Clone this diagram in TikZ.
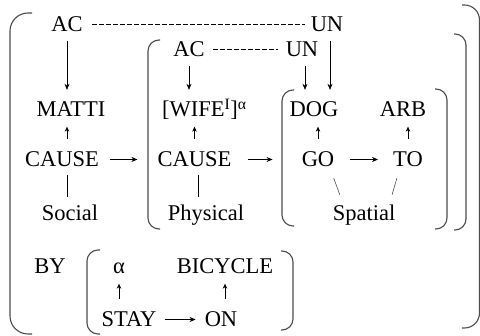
\documentclass[tikz,border=0pt]{standalone}
\usepackage{fontspec}
\setmainfont{Liberation Serif}
\usepackage{tikz}
\usetikzlibrary{arrows.meta, positioning, calc}

\begin{document}
\begin{tikzpicture}[
    x=1pt, y=-1pt,
    word/.style={inner sep=2pt, anchor=base, text height=15pt, text depth=0pt,
        font=\fontsize{22.5}{26}\selectfont},
    darr/.style={-{Stealth[length=6pt, width=5pt]}, semithick, shorten <=7pt, shorten >=10pt},
    uarr/.style={-{Stealth[length=5pt, width=4.5pt]}, semithick, shorten <=11pt, shorten >=7.5pt},
    harr/.style={-{Stealth[length=6pt, width=5pt]}, semithick},
    bind/.style={dash pattern=on 5pt off 2pt, line width=1.4pt},
    link/.style={semithick},
    brk/.style={draw=black!70, line width=1.1pt, rounded corners=11pt}
]
    \useasboundingbox (0,0) rectangle (480,336);

    % words
    \node[word] (acA) at (67,32) {AC};
    \node[word] (unA) at (327,32) {UN};
    \node[word] (acB) at (189,57) {AC};
    \node[word] (unB) at (302,57) {UN};
    \node[word] (matti) at (71,117) {MATTI};
    \node[word, anchor=base west] (wife) at (160,117) {[WIFE\textsuperscript{I}]\textsuperscript{α}};
    \node[word] (dog) at (314,117) {DOG};
    \node[word] (arb) at (403,117) {ARB};
    \node[word] (causeA) at (62,167) {CAUSE};
    \node[word] (causeB) at (194.5,167) {CAUSE};
    \node[word] (go) at (318,167) {GO};
    \node[word] (to) at (408,167) {TO};
    \node[word] (social) at (70,221) {Social};
    \node[word] (physical) at (206,221) {Physical};
    \node[word] (spatial) at (364,221) {Spatial};
    \node[word] (by) at (50,274) {BY};
    \node[word] (alpha) at (119,274) {α};
    \node[word] (bicycle) at (225,274) {BICYCLE};
    \node[word] (stay) at (129,327) {STAY};
    \node[word] (on) at (221,327) {ON};

    % dashed bindings
    \draw[bind, shorten <=7pt, shorten >=4pt] (acA.east) -- (unA.west);
    \draw[bind, shorten <=6pt, shorten >=6pt] (acB.east) -- (unB.west);

    % downward arrows
    \draw[darr] (acA.south) -- (acA.south |- matti.north);
    \draw[darr] (acB.south) -- (acB.south |- wife.north);
    \draw[darr] ([xshift=3pt]unB.south) -- ([xshift=3pt]unB.south |- dog.north);
    \draw[darr] ([xshift=3pt]unA.south) -- ([xshift=3pt]unA.south |- dog.north);

    % upward arrows
    \draw[uarr] (causeA.north -| acA.south) -- (matti.south -| acA.south);
    \draw[uarr] (causeB.north) -- (causeB.north |- wife.south);
    \draw[uarr] (go.north) -- (go.north |- dog.south);
    \draw[uarr] (to.north) -- (to.north |- arb.south);
    \draw[uarr] (stay.north -| alpha) -- (alpha.south);
    \draw[uarr] (on.north -| bicycle) -- (bicycle.south);

    % horizontal arrows
    \draw[harr, shorten <=9pt, shorten >=18pt] (causeA.east) -- (causeB.west);
    \draw[harr, shorten <=14pt, shorten >=27pt] (causeB.east) -- (go.west);
    \draw[harr, shorten <=14pt, shorten >=13pt] (go.east) -- (to.west);
    \draw[harr, shorten <=6.5pt, shorten >=7pt] (stay.east) -- (on.west);

    % field lines
    \draw[link, shorten <=6pt, shorten >=7pt] (causeA.south -| acA.south) -- (social.north -| acA.south);
    \draw[link, shorten <=6pt, shorten >=7pt] ([xshift=4pt]causeB.south) -- ([xshift=4pt]causeB.south |- physical.north);
    \draw[link, draw=black!70, shorten <=9.6pt, shorten >=9.6pt] ([xshift=-6pt]go.south east) -- ([xshift=12.5pt]spatial.north west);
    \draw[link, draw=black!70, shorten <=9.4pt, shorten >=9.4pt] ([xshift=8.5pt]to.south west) -- ([xshift=-8pt]spatial.north east);

    % brackets
    \draw[brk, rounded corners=18pt] (32,13) -- (10,13) -- (10,334) -- (32,334);
    \draw[brk, rounded corners=15pt] (462,5) -- (479.5,5) -- (479.5,328) -- (462,328);
    \draw[brk] (160,40) -- (148,40) -- (148,229) -- (160,229);
    \draw[brk] (454,34) -- (466,34) -- (466,230) -- (454,230);
    \draw[brk] (294,90) -- (282,90) -- (282,226) -- (294,226);
    \draw[brk] (435,89) -- (447,89) -- (447,229) -- (435,229);
    \draw[brk] (100,250) -- (87,250) -- (87,334) -- (100,334);
    \draw[brk] (281,251) -- (293,251) -- (293,330) -- (281,330);
\end{tikzpicture}
\end{document}
